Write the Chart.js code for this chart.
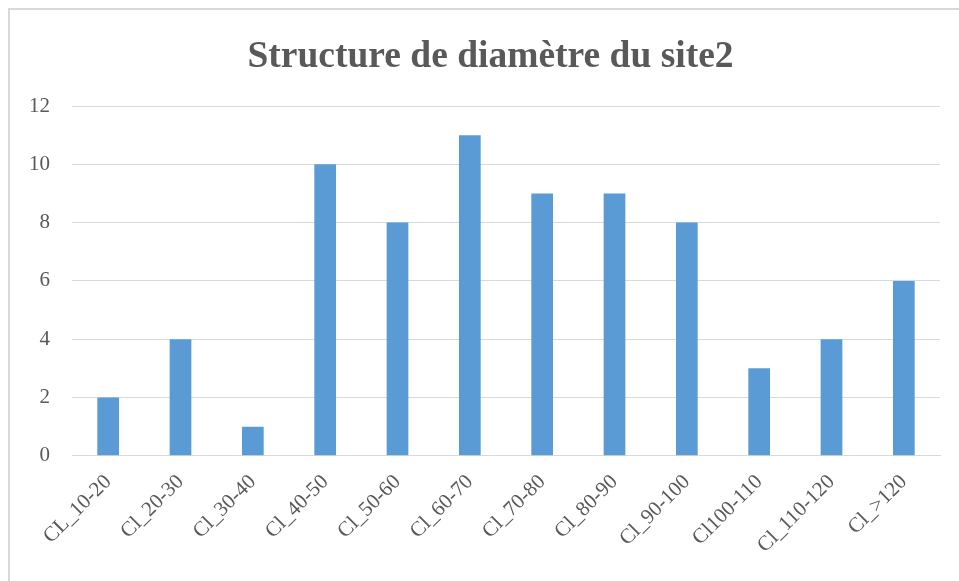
<!DOCTYPE html>
<html>
<head>
<meta charset="utf-8">
<script src="https://cdn.jsdelivr.net/npm/chart.js@4/dist/chart.umd.min.js"></script>
<style>
  html,body{margin:0;padding:0;background:#fff;overflow:hidden;}
  #cadre{position:absolute;left:8px;top:8px;width:1200px;height:800px;border:2px solid #d9d9d9;}
  #zone{position:absolute;left:0;top:0;width:959px;height:581px;}
</style>
</head>
<body>
<div id="cadre"></div>
<div id="zone"><canvas id="graphique"></canvas></div>
<script>
// Données
const classes = ['CL_10-20','Cl_20-30','Cl_30-40','Cl_40-50','Cl_50-60','Cl_60-70','Cl_70-80','Cl_80-90','Cl_90-100','Cl100-110','Cl_110-120','Cl_>120'];
const effectifs = [2,4,1,10,8,11,9,9,8,3,4,6];
const graduations = [0,2,4,6,8,10,12];

const police = "'Liberation Serif','Times New Roman',serif";
const gris = '#595959';

// décale un peu le titre vers la droite (centré sur le cadre d'origine)
const decalageTitre = {
  id: 'decalageTitre',
  afterLayout(chart) {
    const t = chart.titleBlock;
    if (t) { t.left += 17; t.right += 17; }
  }
};

new Chart(document.getElementById('graphique').getContext('2d'), {
  type: 'bar',
  data: {
    labels: classes,
    datasets: [{
      label: 'Effectif',
      data: effectifs,
      backgroundColor: '#5b9bd5',
      borderWidth: 0,
      categoryPercentage: 1,
      barPercentage: 0.30
    }]
  },
  options: {
    responsive: true,
    maintainAspectRatio: false,
    animation: false,
    layout: { padding: { left: 7, right: 19, top: 35, bottom: 9 } },
    plugins: {
      legend: { display: false },
      tooltip: { enabled: false },
      title: {
        display: true,
        text: 'Structure de diamètre du site2',
        color: gris,
        font: { family: police, size: 37.5, weight: 'bold' },
        padding: { top: 0, bottom: 26 }
      }
    },
    scales: {
      x: {
        // les étiquettes inclinées peuvent déborder à gauche, comme dans Excel
        afterFit: ax => { ax.paddingLeft = 0; ax.paddingRight = 0; },
        grid: { display: false, drawTicks: false },
        border: { display: true, color: '#d9d9d9', width: 1 },
        ticks: {
          color: gris,
          font: { family: police, size: 21 },
          minRotation: 45,
          maxRotation: 45,
          padding: 14,
          autoSkip: false
        }
      },
      y: {
        min: 0,
        max: 12,
        afterBuildTicks: ax => { ax.ticks = graduations.map(v => ({ value: v })); },
        grid: { color: '#d9d9d9', lineWidth: 1, drawTicks: false },
        border: { display: false },
        ticks: {
          color: gris,
          font: { family: police, size: 21 },
          padding: 22
        }
      }
    }
  },
  plugins: [decalageTitre]
});
</script>
</body>
</html>
